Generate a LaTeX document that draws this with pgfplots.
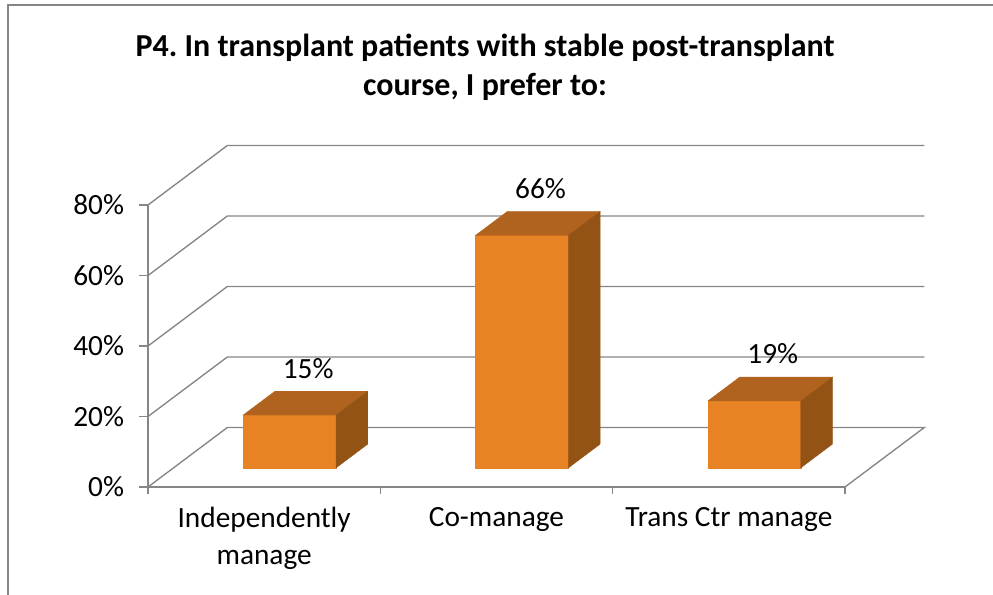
\documentclass[border=0pt]{standalone}
\usepackage{pgfplots}
\pgfplotsset{compat=1.18}
\usepackage{fontspec}
\setmainfont{Carlito}
\frenchspacing
\definecolor{barfront}{RGB}{232,131,37}
\definecolor{bartop}{RGB}{176,99,30}
\definecolor{barside}{RGB}{147,83,20}
\definecolor{gridgray}{RGB}{134,134,134}
\def\dx{0.342}
\def\dy{16.9}
\def\fa{0.32}
\def\fb{0.72}
\def\bw{0.2}
\newcommand\lab{\fontsize{22}{27.5}\selectfont}
\newcommand\threedbar[2]{%
  \pgfmathsetmacro\xa{#1-\bw+\fa*\dx}%
  \pgfmathsetmacro\xb{#1+\bw+\fa*\dx}%
  \pgfmathsetmacro\xc{#1+\bw+\fb*\dx}%
  \pgfmathsetmacro\xd{#1-\bw+\fb*\dx}%
  \pgfmathsetmacro\ya{\fa*\dy}%
  \pgfmathsetmacro\yb{#2+\fa*\dy}%
  \pgfmathsetmacro\yc{\fb*\dy}%
  \pgfmathsetmacro\yd{#2+\fb*\dy}%
  \addplot[fill=barfront, draw=barfront, line width=0.2pt] coordinates {(\xa,\ya) (\xb,\ya) (\xb,\yb) (\xa,\yb)} -- cycle;
  \addplot[fill=bartop, draw=bartop, line width=0.2pt] coordinates {(\xa,\yb) (\xb,\yb) (\xc,\yd) (\xd,\yd)} -- cycle;
  \addplot[fill=barside, draw=barside, line width=0.2pt] coordinates {(\xb,\ya) (\xc,\yc) (\xc,\yd) (\xb,\yb)} -- cycle;
  \node[anchor=base, font=\lab, inner sep=0pt] at (axis cs:{#1+\fa*\dx+0.08},{#2+\fa*\dy}) [yshift=27.75pt] {#2\%};
}
\begin{document}
\begin{tikzpicture}
\path[use as bounding box] (-111pt,-81pt) rectangle (633.75pt,365.25pt);
\draw[gridgray, line width=0.9pt] (-105pt,-82pt) -- (-105pt,361.5pt) -- (640pt,361.5pt);
\node[anchor=base, font=\bfseries\fontsize{24}{29}\selectfont] at (252.75pt,322.5pt) {P4. In transplant patients with stable post-transplant};
\node[anchor=base, font=\bfseries\fontsize{24}{29}\selectfont] at (252.75pt,293.25pt) {course, I prefer to:};
\begin{axis}[
  anchor=origin, at={(0pt,0pt)},
  x=174.25pt, y=2.64375pt,
  xmin=0, xmax=3, ymin=0, ymax=80,
  clip=false,
  axis x line*=bottom, axis y line*=left,
  axis line style={gridgray, line width=1pt, -},
  tick style={gridgray, line width=1pt},
  tick align=outside,
  major tick length=6.75pt,
  minor tick length=5pt,
  ytick={0,20,40,60,80},
  yticklabels={0\%,20\%,40\%,60\%,80\%},
  xtick={0.5,1.5,2.5},
  xticklabels={Independently\\manage, Co-manage, Trans Ctr manage},
  minor xtick={0,1,2,3},
  every major x tick/.append style={draw=none},
  ticklabel style={font=\lab},
  yticklabel style={xshift=-7.7pt},
  xticklabel style={align=center, yshift=-5pt},
]
% back wall and side wall gridlines
\addplot[gridgray, line width=1pt] coordinates {(0,0) (0.342,16.9) (3.342,16.9) (3,0)};
\addplot[gridgray, line width=1pt] coordinates {(0,20) (0.342,36.9) (3.342,36.9)};
\addplot[gridgray, line width=1pt] coordinates {(0,40) (0.342,56.9) (3.342,56.9)};
\addplot[gridgray, line width=1pt] coordinates {(0,60) (0.342,76.9) (3.342,76.9)};
\addplot[gridgray, line width=1pt] coordinates {(0,80) (0.342,96.9) (3.342,96.9)};
% bars: category centre, value (%)
\threedbar{0.5}{15}
\threedbar{1.5}{66}
\threedbar{2.5}{19}
\end{axis}
\end{tikzpicture}
\end{document}
